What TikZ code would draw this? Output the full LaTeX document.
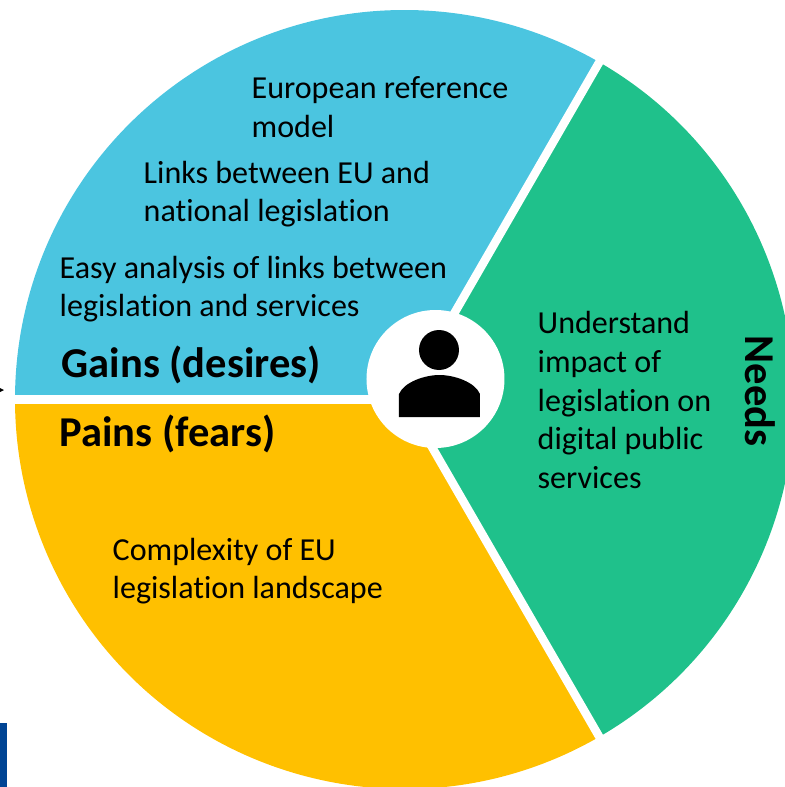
\documentclass[tikz,border=0pt]{standalone}
\usepackage{fontspec}
\setmainfont[RawFeature=-liga]{Carlito}
\usepackage{tikz}
\usetikzlibrary{positioning}
\definecolor{gainsblue}{HTML}{4BC5E0}
\definecolor{painsyellow}{HTML}{FFC000}
\definecolor{needsgreen}{HTML}{1FC18B}
\definecolor{barblue}{HTML}{004494}
\tikzset{
    itemtext/.style={anchor=west,align=left,inner sep=0pt,font=\fontsize{9.12}{11}\selectfont},
    headtext/.style={anchor=west,inner sep=0pt,font=\fontsize{12.1}{14}\selectfont\bfseries},
    gapline/.style={white,line width=2.4pt}
}
\begin{document}
\begin{tikzpicture}[>=stealth]
    \useasboundingbox (0,0) rectangle (7.85,7.87);
    \clip (0,0) rectangle (7.85,7.87);
    \coordinate (c) at (4.045,3.875);
    \fill[gainsblue](c)--++(180:3.895) arc (180:60:3.895)--cycle;
    \fill[needsgreen](c)--++(60:3.895) arc (60:-60:3.895)--cycle;
    \fill[painsyellow](c)--++(-60:3.895) arc (-60:-180:3.895)--cycle;
    \coordinate (rimB) at (6.02,0.455);
    \coordinate (rimC) at (6.02,7.295);
    \coordinate (rimD) at (0.1,3.875);
    \draw[gapline](c)--(rimB);
    \draw[gapline](c)--(rimC);
    \draw[gapline](c)--(rimD);
    \node[circle,fill=white,inner sep=0pt,minimum size=1.38cm] (hub) at (4.355,4.08) {};
    % person
    \fill (4.39,4.37) circle (0.2);
    \fill (3.99,3.70)--(3.99,3.93) .. controls (4.04,4.05) and (4.25,4.12) .. (4.395,4.12) .. controls (4.54,4.12) and (4.75,4.05) .. (4.80,3.93)--(4.80,3.70)--cycle;
    % labels
    \node[itemtext] (ref) at (2.51,6.80) {European reference\\model};
    \node[itemtext] (links) at (1.43,5.93) {Links between EU and\\national legislation};
    \node[itemtext] (easy) at (0.59,4.98) {Easy analysis of links between\\legislation and services};
    \node[headtext] (gains) at (0.61,4.22) {Gains (desires)};
    \node[headtext] (pains) at (0.59,3.53) {Pains (fears)};
    \node[itemtext] (complex) at (1.12,2.16) {Complexity of EU\\legislation landscape};
    \node[itemtext] (impact) at (5.37,3.87) {Understand\\impact of\\legislation on\\digital public\\services};
    \node[headtext,anchor=center,rotate=-90] (needs) at (7.60,3.96) {Needs};
    % leftovers at the edge
    \coordinate (arrowA) at (-0.04,3.97);
    \coordinate (arrowB) at (0.04,3.97);
    \draw[->](arrowA)--(arrowB);
    \fill[barblue](0,0) rectangle (0.07,0.64);
\end{tikzpicture}
\end{document}
